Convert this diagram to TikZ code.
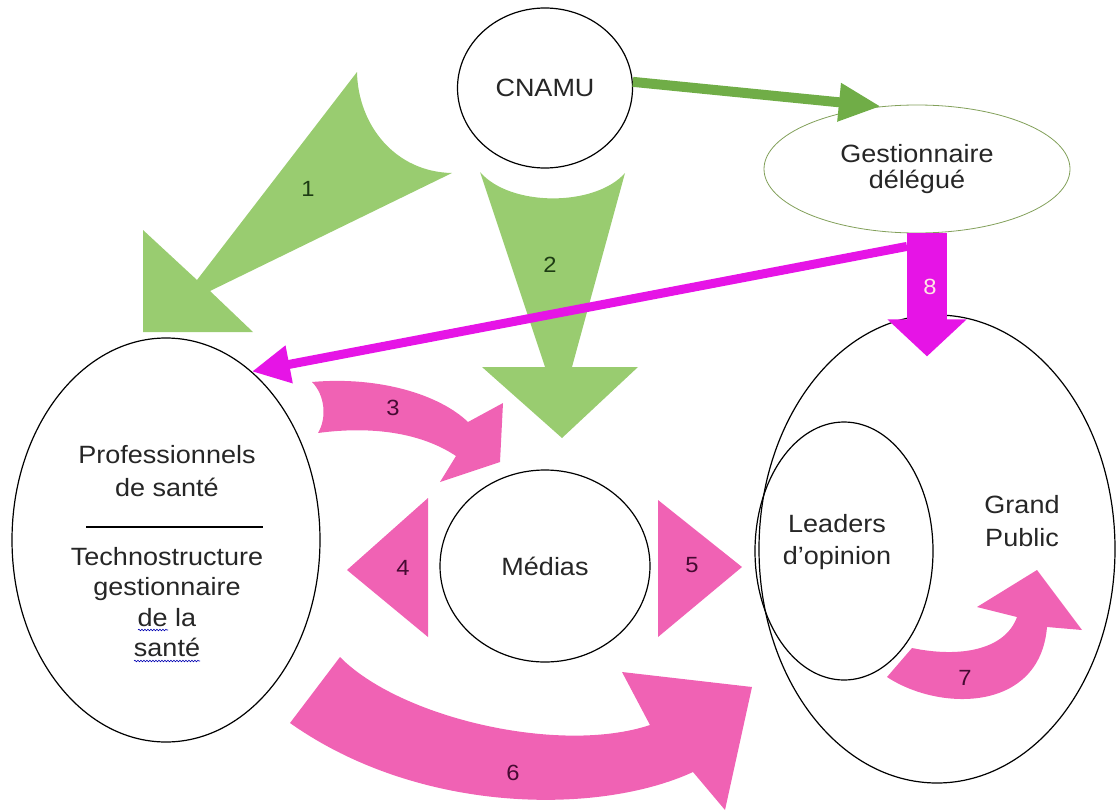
\documentclass[tikz,border=0pt]{standalone}
\usepackage{fontspec}
\setmainfont{Liberation Sans}[FakeStretch=1.08]
\usetikzlibrary{shapes.geometric,arrows.meta,calc,decorations.pathmorphing}
\definecolor{leaf}{RGB}{153,204,112}
\definecolor{moss}{RGB}{112,173,71}
\definecolor{rose}{RGB}{240,98,180}
\definecolor{fuchsia}{RGB}{230,20,230}
\definecolor{pine}{RGB}{30,60,20}
\definecolor{plum}{RGB}{70,10,50}
\definecolor{gestline}{RGB}{130,160,90}
\tikzset{
  oval/.style={ellipse,draw,line width=1.2pt,inner sep=0pt},
  txt/.style={font=\fontsize{25}{30}\selectfont,align=center,text=black!85},
  num/.style={font=\fontsize{22}{26}\selectfont},
  spell/.style={blue!70!black,line width=.6pt,decorate,decoration={snake,segment length=3pt,amplitude=.8pt}}
}
\begin{document}
\begin{tikzpicture}[x=1pt,y=-1pt]
      \useasboundingbox (0,0) rectangle (1116,811);
      \fill [leaf] (357,72) .. controls (358,125) and (395,172) .. (452,173) -- (210,291) -- (253,332) -- (143,332) -- (143,230) -- (197,280) -- cycle;
      \fill [leaf] (480,172) .. controls (510,207) and (595,207) .. (625,173) -- (572,367) -- (638,367) -- (562,438) -- (482,367) -- (545,367) -- cycle;
      \node [oval,minimum width=175pt,minimum height=160pt,txt] (cnamu) at (545,88) {CNAMU};
      \node [ellipse,draw=gestline,line width=.8pt,inner sep=0pt,minimum width=306pt,minimum height=128pt,txt,font=\fontsize{25}{26}\selectfont] (gest) at (917,169) {Gestionnaire\\délégué};
      \node [oval,minimum width=210pt,minimum height=192pt,txt] (medias) at (545,566) {Médias};
      \node [oval,minimum width=308pt,minimum height=404pt] (pro) at (166,540) {};
      \node [txt,font=\fontsize{25}{33}\selectfont] (protop) at (167,471) {Professionnels\\de santé};
      \node [txt,font=\fontsize{25}{30.3}\selectfont] (probot) at (167,602) {Technostructure\\gestionnaire\\de la\\santé};
      \draw [line width=1.2pt] (86,527) -- (263,527);
      \draw [spell] (138,630) -- (168,630);
      \draw [spell] (134,661) -- (200,661);
      \node [oval,minimum width=356pt,minimum height=468pt] (public) at (937,549) {};
      \node [oval,minimum width=178pt,minimum height=258pt] (leaders) at (844,551) {};
      \node [txt,font=\fontsize{25}{32}\selectfont] (leaderstxt) at (837,542) {Leaders\\d’opinion};
      \node [txt,font=\fontsize{25}{33}\selectfont] (publictxt) at (1022,521) {Grand\\Public};
      \draw [moss,line width=10pt,-{Triangle[length=42pt,width=36pt]}] (cnamu.4) -- (gest.120);
      \fill [rose] (312,382) .. controls (380,376) and (440,395) .. (468,422) -- (503,403) -- (500,462) -- (440,482) -- (456,456) .. controls (420,432) and (370,426) .. (318,433) .. controls (327,418) and (325,395) .. cycle;
      \fill [rose] (347,570) -- (428,498) -- (428,637) -- cycle;
      \fill [rose] (742,567) -- (658,500) -- (658,637) -- cycle;
      \fill [rose] (340,657) .. controls (400,718) and (560,755) .. (650,725) -- (622,672) -- (752,687) -- (725,810) -- (693,772) .. controls (600,815) and (420,815) .. (290,723) -- cycle;
      \fill [rose] (912,648) .. controls (960,658) and (1005,650) .. (1017,617) -- (977,607) -- (1037,570) -- (1082,630) -- (1047,627) .. controls (1040,712) and (940,712) .. (887,677) -- cycle;
      \draw [fuchsia,line width=9pt,-{Triangle[length=38pt,width=36pt]}] ($(gest.south)+(-10,13)$) -- (pro.63);
      \draw [fuchsia,line width=40pt,-{Triangle[length=37pt,width=77pt]}] ($(gest.south)+(10,0)$) -- ($(public.north)+(-10,42)$);
      \node [num,text=pine] (n1) at (308,189) {1};
      \node [num,text=pine] (n2) at (550,265) {2};
      \node [num,text=plum] (n3) at (393,408) {3};
      \node [num,text=plum] (n4) at (403,568) {4};
      \node [num,text=plum] (n5) at (692,565) {5};
      \node [num,text=plum] (n6) at (513,773) {6};
      \node [num,text=plum] (n7) at (965,678) {7};
      \node [num,text=pink!40] (n8) at (930,287) {8};
\end{tikzpicture}
\end{document}
